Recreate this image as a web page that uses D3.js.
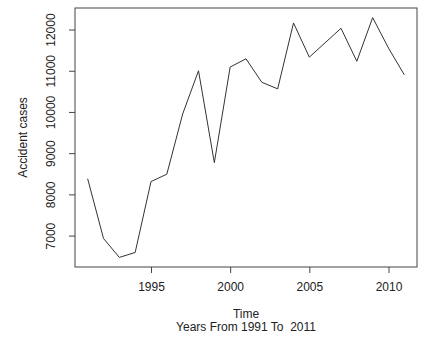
<!DOCTYPE html>
<html>
<head>
<meta charset="utf-8">
<script src="https://cdn.jsdelivr.net/npm/d3@7"></script>
<style>
  body { margin: 0; background: #fff; }
  text { font-family: "Liberation Sans", Arial, sans-serif; fill: #222; }
</style>
</head>
<body>
<div id="chart"></div>
<script>
// accident cases per year
var years = [1991,1992,1993,1994,1995,1996,1997,1998,1999,2000,2001,2002,2003,2004,2005,2006,2007,2008,2009,2010,2011];
var cases = [8380,6930,6470,6590,8310,8490,9950,11000,8770,11090,11290,10720,10560,12160,11330,11680,12030,11230,12290,11550,10900];
var xTicks = [1995,2000,2005,2010];
var yTicks = [7000,8000,9000,10000,11000,12000];

var W = 427, H = 337;
var margin = {top: 8, right: 10, bottom: 70, left: 75},
    width = W - margin.left - margin.right,
    height = H - margin.top - margin.bottom;

var data = years.map(function(y, i) { return {year: y, value: cases[i]}; });

var svg = d3.select("#chart").append("svg")
    .attr("width", W).attr("height", H);
var g = svg.append("g")
    .attr("transform", "translate(" + margin.left + "," + margin.top + ")");

// R style: extend the data range by 4% on each side
var xe = d3.extent(years), xpad = (xe[1] - xe[0]) * 0.04;
var ye = d3.extent(cases), ypad = (ye[1] - ye[0]) * 0.04;

var x = d3.scaleLinear().domain([xe[0] - xpad, xe[1] + xpad]).range([0, width]);
var y = d3.scaleLinear().domain([ye[0] - ypad, ye[1] + ypad]).range([height, 0]);

// x axis
var xAxis = g.append("g")
    .attr("transform", "translate(0," + height + ")")
    .call(d3.axisBottom(x).tickValues(xTicks).tickFormat(d3.format("d")).tickSize(6).tickPadding(9));
xAxis.select(".domain").remove();
xAxis.selectAll("line").attr("stroke", "#444");
xAxis.selectAll("text").style("font-size", "12px").style("font-family", "Liberation Sans, Arial, sans-serif").attr("fill", "#222");

// y axis, labels turned like R's las=0
var yAxis = g.append("g")
    .call(d3.axisLeft(y).tickValues(yTicks).tickFormat(d3.format("d")).tickSize(6));
yAxis.select(".domain").remove();
yAxis.selectAll("line").attr("stroke", "#444");
yAxis.selectAll("text")
    .style("font-size", "12px").style("font-family", "Liberation Sans, Arial, sans-serif")
    .attr("fill", "#222")
    .attr("x", null).attr("dy", null)
    .attr("text-anchor", "middle")
    .attr("transform", "translate(-20,0) rotate(-90)");

// box
g.append("rect")
    .attr("x", 0).attr("y", 0)
    .attr("width", width).attr("height", height)
    .attr("fill", "none").attr("stroke", "#444").attr("stroke-width", 1);

// series
var line = d3.line()
    .x(function(d) { return x(d.year); })
    .y(function(d) { return y(d.value); });

g.append("path")
    .datum(data)
    .attr("d", line)
    .attr("fill", "none")
    .attr("stroke", "#333")
    .attr("stroke-width", 1);

// labels
svg.append("text")
    .attr("x", margin.left + width / 2).attr("y", 318)
    .attr("text-anchor", "middle").style("font-size", "12px")
    .text("Time");
svg.append("text")
    .attr("x", margin.left + width / 2).attr("y", 331)
    .attr("text-anchor", "middle").style("font-size", "12px")
    .attr("xml:space", "preserve").style("white-space", "pre")
    .text("Years From 1991 To  2011");
svg.append("text")
    .attr("transform", "translate(27," + (margin.top + height / 2) + ") rotate(-90)")
    .attr("text-anchor", "middle").style("font-size", "12px")
    .text("Accident cases");
</script>
</body>
</html>
